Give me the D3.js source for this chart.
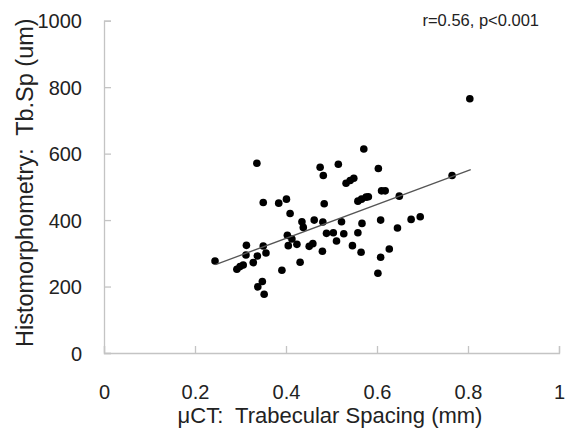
<!DOCTYPE html>
<html>
<head>
<meta charset="utf-8">
<script src="https://cdn.jsdelivr.net/npm/d3@7"></script>
<style>
  body { margin: 0; background: #fff; }
  svg text { font-family: "Liberation Sans", Arial, sans-serif; fill: #222; white-space: pre; }
</style>
</head>
<body>
<div id="chart"></div>
<script>
// uCT trabecular spacing (mm) vs histomorphometry Tb.Sp (um)
var ctSpacing = [0.244, 0.336, 0.350, 0.384, 0.401, 0.409, 0.475, 0.482, 0.515, 0.484,
                 0.462, 0.435, 0.438, 0.481, 0.489, 0.504, 0.511, 0.403, 0.413, 0.405,
                 0.424, 0.451, 0.459, 0.480, 0.431, 0.391, 0.350, 0.356, 0.337, 0.313,
                 0.312, 0.328, 0.306, 0.299, 0.292, 0.348, 0.338, 0.352, 0.571, 0.603,
                 0.532, 0.541, 0.549, 0.610, 0.618, 0.649, 0.765, 0.558, 0.566, 0.576,
                 0.581, 0.522, 0.567, 0.608, 0.675, 0.695, 0.645, 0.527, 0.558, 0.546,
                 0.565, 0.627, 0.608, 0.602, 0.804];
var histoSpacing = [277, 571, 453, 451, 463, 420, 559, 534, 568, 449,
                    400, 395, 378, 394, 360, 362, 337, 354, 343, 323,
                    327, 321, 329, 306, 273, 249, 322, 301, 292, 324,
                    295, 272, 265, 260, 252, 215, 199, 177, 614, 555,
                    511, 519, 526, 488, 488, 472, 534, 457, 463, 469,
                    470, 395, 390, 400, 402, 410, 376, 359, 362, 323,
                    303, 313, 288, 240, 765];
var trendX = [0.245, 0.806];
var trendY = [266, 552];
var xTicks = [0, 0.2, 0.4, 0.6, 0.8, 1];
var yTicks = [0, 200, 400, 600, 800, 1000];
var statText = "r=0.56, p<0.001";

var width = 566, height = 434;
var svg = d3.select("#chart").append("svg")
    .attr("width", width)
    .attr("height", height);

var x = d3.scaleLinear().domain([0, 1]).range([104, 559]);
var y = d3.scaleLinear().domain([0, 1000]).range([353, 20.7]);

// axes, ticks pointing inward
var xAxis = svg.append("g")
    .attr("transform", "translate(0," + y(0) + ")")
    .call(d3.axisBottom(x).tickValues(xTicks).tickSize(-7).tickPadding(0)
      .tickFormat(d3.format("")));
var yAxis = svg.append("g")
    .attr("transform", "translate(" + x(0) + ",0)")
    .call(d3.axisLeft(y).tickValues(yTicks).tickSize(-7).tickPadding(0)
      .tickFormat(d3.format("")));

[xAxis, yAxis].forEach(function(a) {
  a.select(".domain").attr("stroke", "#c4c4c4").attr("stroke-width", 1.3);
  a.selectAll(".tick line").attr("stroke", "#c4c4c4").attr("stroke-width", 1.3);
  a.selectAll(".tick text").attr("fill", "#222").style("font-size", "20px");
});
xAxis.selectAll(".tick text").attr("y", 0).attr("dy", 0)
    .attr("transform", "translate(0,46)");
yAxis.selectAll(".tick text").attr("x", -22).attr("dy", "0.35em");

// points
svg.append("g").selectAll("circle")
  .data(ctSpacing)
  .enter().append("circle")
    .attr("cx", function(d) { return x(d); })
    .attr("cy", function(d, i) { return y(histoSpacing[i]); })
    .attr("r", 3.8)
    .attr("fill", "#000");

// regression line
svg.append("line")
    .attr("x1", x(trendX[0])).attr("y1", y(trendY[0]))
    .attr("x2", x(trendX[1])).attr("y2", y(trendY[1]))
    .attr("stroke", "#555")
    .attr("stroke-width", 1.3);

svg.append("text")
    .attr("x", 539).attr("y", 26)
    .attr("text-anchor", "end")
    .style("font-size", "16.5px")
    .text(statText);

svg.append("text")
    .attr("x", 330).attr("y", 423)
    .attr("text-anchor", "middle")
    .style("font-size", "22px")
    .text("\u03BCCT:  Trabecular Spacing (mm)");

svg.append("text")
    .attr("transform", "translate(33,347)rotate(-90)")
    .attr("text-anchor", "start")
    .style("font-size", "23.5px")
    .text("Histomorphometry:  Tb.Sp (um)");
</script>
</body>
</html>
